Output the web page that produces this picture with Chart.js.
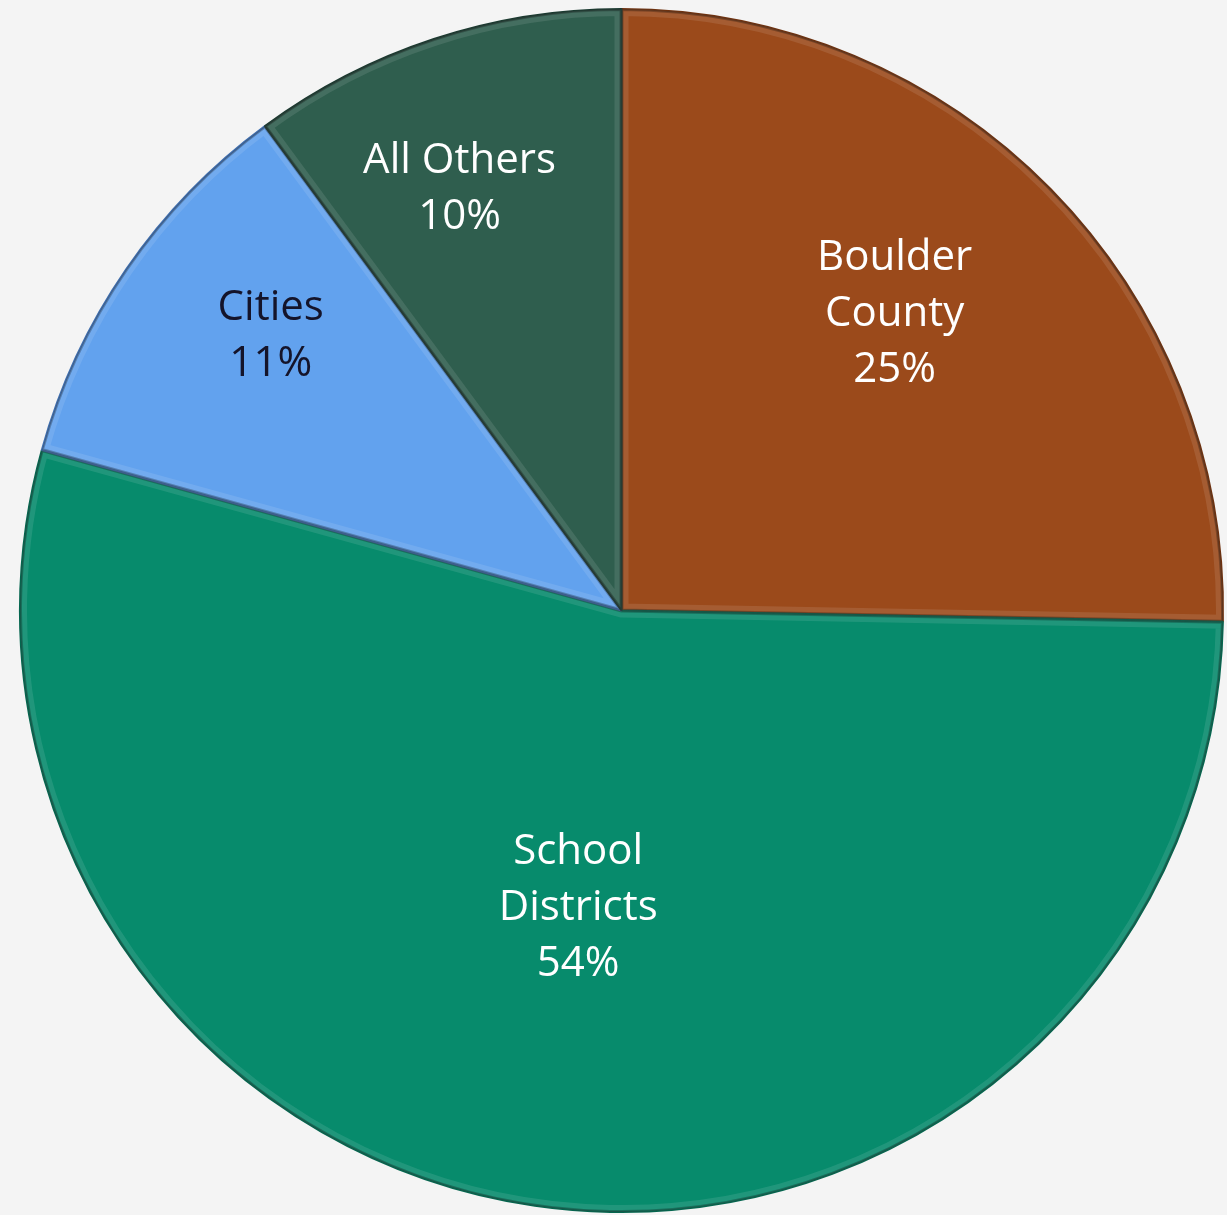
<!DOCTYPE html>
<html>
<head>
<meta charset="utf-8">
<title>Property tax shares</title>
<script src="https://cdn.jsdelivr.net/npm/chart.js@4.4.1/dist/chart.umd.min.js"></script>
<style>
    html, body { margin: 0; padding: 0; background: #f4f4f4; }
    #wrap { width: 1227px; height: 1215px; position: relative; }
</style>
</head>
<body>
<div id="wrap"><canvas id="pie_chart"></canvas></div>
<script>
// ---------------- DATA -----------------
const categories = ["Boulder County", "School Districts", "Cities", "All Others"];
const shares = [25.3, 54.0, 10.6, 10.1];
const labelLines = [
    ["Boulder", "County", "25%"],
    ["School", "Districts", "54%"],
    ["Cities", "11%"],
    ["All Others", "10%"],
];

// -------------- STYLE ---------------
const sliceColors = ["#9b4a1b", "#078b6c", "#62a2ee", "#2f5e4e"];
const edgeColors = ["#6e3210", "#05664f", "#3f6fb0", "#1b3a30"];
const textColors = ["#ffffff", "#ffffff", "#14142a", "#ffffff"];
// radial distance of each label, as a fraction of the radius
const labelRadius = [0.67, 0.5, 0.74, 0.75];
const labelAngleShift = [-0.05, 0.0, 0.06, -0.05];

// draws the in-slice labels (no datalabels plugin available)
const sliceLabels = {
    id: "sliceLabels",
    afterDatasetsDraw(chart) {
        const { ctx } = chart;
        const meta = chart.getDatasetMeta(0);
        ctx.save();
        ctx.font = "42px 'Open Sans', sans-serif";
        ctx.textAlign = "center";
        ctx.textBaseline = "middle";
        meta.data.forEach((arc, i) => {
            const { x, y, startAngle, endAngle, outerRadius } = arc.getProps(
                ["x", "y", "startAngle", "endAngle", "outerRadius"], true
            );
            const mid = (startAngle + endAngle) / 2 + labelAngleShift[i];
            const r = outerRadius * labelRadius[i];
            const cx = x + Math.cos(mid) * r;
            const cy = y + Math.sin(mid) * r;
            const lines = labelLines[i];
            const lh = 56;
            ctx.fillStyle = textColors[i];
            lines.forEach((t, j) => {
                ctx.fillText(t, cx, cy + (j - (lines.length - 1) / 2) * lh);
            });
        });
        ctx.restore();
    },
};

// soft inner bevel along each slice edge
const bevel = {
    id: "bevel",
    afterDatasetsDraw(chart) {
        const { ctx } = chart;
        const meta = chart.getDatasetMeta(0);
        ctx.save();
        meta.data.forEach((arc) => {
            const { x, y, startAngle, endAngle, outerRadius } = arc.getProps(
                ["x", "y", "startAngle", "endAngle", "outerRadius"], true
            );
            ctx.beginPath();
            ctx.moveTo(x, y);
            ctx.arc(x, y, outerRadius, startAngle, endAngle);
            ctx.closePath();
            ctx.clip();
            ctx.lineWidth = 14;
            ctx.strokeStyle = "rgba(255,255,255,0.10)";
            ctx.stroke();
            ctx.lineWidth = 4;
            ctx.strokeStyle = "rgba(0,0,0,0.25)";
            ctx.stroke();
            ctx.restore();
            ctx.save();
        });
        ctx.restore();
    },
};

const ctx = document.getElementById("pie_chart");
new Chart(ctx, {
    type: "pie",
    data: {
        labels: categories,
        datasets: [
            {
                data: shares,
                backgroundColor: sliceColors,
                borderColor: edgeColors,
                borderWidth: 2,
                hoverOffset: 0,
            },
        ],
    },
    options: {
        responsive: true,
        maintainAspectRatio: false,
        animation: false,
        layout: { padding: { left: 16, right: 0, top: 8, bottom: 2 } },
        plugins: {
            legend: { display: false },
            tooltip: { enabled: false },
        },
    },
    plugins: [bevel, sliceLabels],
});
</script>
</body>
</html>
